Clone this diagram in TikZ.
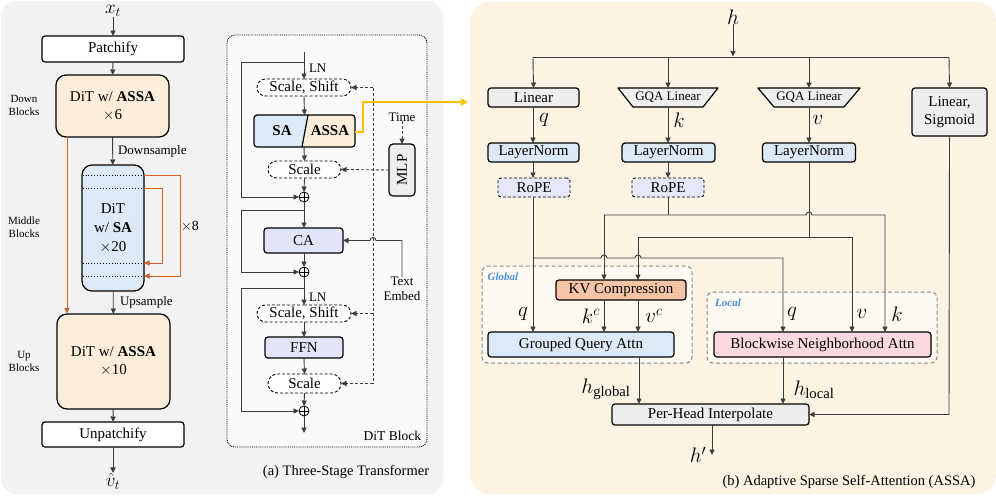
\RequirePackage{fix-cm}
\documentclass[tikz,border=0pt]{standalone}
\usepackage{fontspec}
\setmainfont{Liberation Serif}
\newfontfamily\tms{Liberation Serif}
\usetikzlibrary{arrows.meta,shapes.misc,calc}
\definecolor{pgray}{HTML}{F2F2F2}
\definecolor{pbeige}{HTML}{FDF3E2}
\definecolor{peach}{HTML}{FDEEDC}
\definecolor{lblue}{HTML}{DCE9F6}
\definecolor{lav}{HTML}{E2E5F8}
\definecolor{ropec}{HTML}{E6E8FA}
\definecolor{bgray}{HTML}{EEEEEE}
\definecolor{kvc}{HTML}{F5C4A6}
\definecolor{pinkc}{HTML}{FCD8E1}
\definecolor{orng}{HTML}{D2612A}
\definecolor{yel}{HTML}{FFC000}
\definecolor{glfill}{HTML}{FEF9F1}
\definecolor{glblue}{HTML}{4A90D9}
\definecolor{wire}{HTML}{3C3C3C}
\definecolor{dashg}{HTML}{8A8A8A}
\newcommand\myfs[2]{\tms\fontsize{#1}{#2}\selectfont}
\tikzset{
 every node/.style={inner sep=0pt, outer sep=0pt},
 box/.style={draw, line width=1.2pt, rounded corners=3pt, align=center, font=\myfs{15}{18}},
 bigbox/.style={box, rounded corners=10pt},
 ell/.style={rounded rectangle, draw, dash pattern=on 3pt off 2pt, line width=0.9pt, font=\myfs{15}{18}},
 lab/.style={font=\myfs{13}{15}, align=center},
 small/.style={font=\myfs{11}{13}, align=center},
 mlab/.style={font=\myfs{21}{23}},
 wireline/.style={line width=0.9pt, draw=wire},
 conn/.style={wireline, -{Triangle[length=5.5pt,width=5pt]}},
 dconn/.style={conn, dash pattern=on 3pt off 2pt},
 grp/.style={draw=dashg, dash pattern=on 4pt off 2.5pt, line width=1pt, fill=glfill, rounded corners=6pt},
 tag/.style={font=\myfs{11}{13}\bfseries\itshape, text=glblue},
}
\begin{document}
\begin{tikzpicture}[x=1pt,y=-1pt]
\useasboundingbox (0,0) rectangle (996,499);
% panels
\fill[pgray, rounded corners=16pt] (1,1) rectangle (443,494);
\fill[pbeige, rounded corners=20pt] (470,2) rectangle (996,494);

% ===== (a) left column =====
\node[font=\myfs{19}{21}] (xt) at (113,11) {$x_t$};
\node[box, fill=white, minimum width=142, minimum height=26] (patch) at (113,49) {Patchify};
\node[bigbox, fill=peach, minimum width=113, minimum height=62] (down) at (112.5,106) {DiT w/ \textbf{ASSA}\\$\times$6};
\node[bigbox, fill=lblue, minimum width=62, minimum height=126, font=\myfs{15}{19}] (mid) at (113,228) {DiT\\w/ \textbf{SA}\\$\times$20};
\node[bigbox, fill=peach, minimum width=113, minimum height=95] (up) at (113.5,361.5) {DiT w/ \textbf{ASSA}\\$\times$10};
\node[box, fill=white, minimum width=142, minimum height=25] (unpatch) at (113,434.5) {Unpatchify};
\node[font=\myfs{19}{21}] (vt) at (113,481) {$\hat{v}_t$};
\draw[conn] (xt) -- (patch);
\draw[conn] (patch) -- (down);
\draw[conn] (down) -- (mid);
\draw[conn] (mid) -- (up);
\draw[conn] (up) -- (unpatch);
\draw[conn] (unpatch) -- (vt);
\node[lab, anchor=west] (dsl) at (118,151) {Downsample};
\node[lab, anchor=west] (usl) at (120,302) {Upsample};
\foreach \yy in {175,188,263,276} \draw[dotted, line width=0.9pt] (82.6,\yy) -- (143.4,\yy);
\draw[orng, line width=1pt, -{Triangle[length=5.5pt,width=5pt]}] (144,175) -- (180,175) -- (180,276) -- (144,276);
\draw[orng, line width=1pt, -{Triangle[length=5.5pt,width=5pt]}] (144,188) -- (162,188) -- (162,263) -- (144,263);
\draw[orng, line width=1pt, -{Triangle[length=5.5pt,width=5pt]}] (67,137) -- (67,313.5);
\node[font=\myfs{14}{16}] (x8) at (190,226) {$\times$8};
\node[small] (dbl) at (24,105.5) {Down\\Blocks};
\node[small] (mbl) at (24,227.5) {Middle\\Blocks};
\node[small] (ubl) at (24,361) {Up\\Blocks};

% ===== DiT block =====
\draw[densely dotted, line width=0.9pt, fill=white!98!black, rounded corners=8pt] (227,35) rectangle (427,447);
\node[font=\myfs{13.5}{15}, anchor=east] (dbt) at (421,436) {DiT Block};
\node[font=\myfs{14.5}{16}] (capa) at (346,472) {(a) Three-Stage Transformer};

\node[ell, fill=white, minimum width=94, minimum height=17] (ss1) at (304,87.5) {Scale, Shift};
% SA / ASSA split box
\begin{scope}
\clip[rounded corners=3pt] (254,115) rectangle (355,147);
\fill[lblue] (254,115) -- (308,115) -- (302,147) -- (254,147) -- cycle;
\fill[peach] (308,115) -- (355,115) -- (355,147) -- (302,147) -- cycle;
\end{scope}
\node[draw, line width=1.2pt, rounded corners=3pt, minimum width=101, minimum height=32] (sa) at (304.5,131) {};
\draw[line width=1.2pt] (308,115) -- (302,147);
\node[font=\myfs{15}{18}\bfseries] (satext) at (282,131) {SA};
\node[font=\myfs{15}{18}\bfseries] (assatext) at (330,131) {ASSA};
\node[ell, fill=white, minimum width=73, minimum height=17] (sc1) at (304.5,169.5) {Scale};
\node[circle, draw, line width=0.8pt, minimum size=10, fill=white] (p1) at (304,197) {};
\node[box, fill=lav, minimum width=79, minimum height=25] (ca) at (303.5,240.5) {CA};
\node[circle, draw, line width=0.8pt, minimum size=10, fill=white] (p2) at (304,272) {};
\node[ell, fill=white, minimum width=94, minimum height=17] (ss2) at (304,313.5) {Scale, Shift};
\node[box, fill=lav, minimum width=78, minimum height=21] (ffn) at (304,347.5) {FFN};
\node[ell, fill=white, minimum width=73, minimum height=19] (sc2) at (304.5,383.5) {Scale};
\node[circle, draw, line width=0.8pt, minimum size=10, fill=white] (p3) at (304,411) {};
\foreach \p in {p1,p2,p3} \draw[line width=0.8pt] (\p.north) -- (\p.south) (\p.west) -- (\p.east);
\node[box, fill=bgray, minimum width=26, minimum height=52, rounded corners=4pt] (mlp) at (402,170) {};
\node[rotate=90, font=\myfs{15}{18}] (mlpt) at (402,170) {MLP};
\node[lab] (time) at (402,117) {Time};
\node[lab] (temb) at (402,289) {Text\\Embed};
\node[lab, anchor=west] (ln1) at (309,68) {LN};
\node[lab, anchor=west] (ln2) at (309,297) {LN};

\draw[conn] (304,52) -- (ss1.north);
\draw[conn] (304,62) -- (241,62) -- (241,197) -- (p1.west);
\draw[conn] (ss1.south) -- (sa.south |- sa.north);
\draw[conn] (304,147) -- (sc1.north);
\draw[conn] (sc1.south) -- (p1.north);
\draw[conn] (p1.south) -- (ca.north -| p1.south);
\draw[conn] (304,210) -- (241,210) -- (241,272) -- (p2.west);
\draw[conn] (ca.south -| p2.north) -- (p2.north);
\draw[conn] (p2.south) -- (ss2.north);
\draw[conn] (304,288) -- (241,288) -- (241,411) -- (p3.west);
\draw[conn] (ss2.south) -- (ffn.north);
\draw[conn] (ffn.south) -- (sc2.north);
\draw[conn] (sc2.south) -- (p3.north);
\coordinate (dout) at (304,433);
\draw[conn] (p3.south) -- (dout);
\draw[conn] (temb.north) -- (402,240.5) -- (376,240.5) arc[start angle=0,end angle=180,radius=3pt] -- (ca.east);
\draw[dconn] (time.south) -- (mlp.north);
\draw[dconn] (mlp.west) -- (sc1.east);
\draw[wireline, dash pattern=on 3pt off 2pt] (373,87.5) -- (373,383.5);
\draw[dconn] (373,87.5) -- (ss1.east);
\draw[dconn] (373,313.5) -- (ss2.east);
\draw[dconn] (373,383.5) -- (sc2.east);
\coordinate (yend) at (468,102);
\draw[yel, line width=1.8pt, -{Triangle[length=7pt,width=7pt]}] (355,132) -- (363,132) -- (363,102) -- (yend);

% ===== (b) ASSA =====
\draw[grp] (482,266) rectangle (692,363);
\draw[grp] (707,292) rectangle (937,363);
\node[tag] (gtag) at (503,277) {Global};
\node[tag] (ltag) at (728,303) {Local};

\node[font=\myfs{21}{23}] (h) at (733,17) {$h$};
\node[box, fill=bgray, minimum width=91, minimum height=19] (lin) at (533.5,97.5) {Linear};
\draw[line width=1.2pt, fill=bgray, line join=round] (618,88) -- (718,88) -- (703,107) -- (633,107) -- cycle;
\draw[line width=1.2pt, fill=bgray, line join=round] (758,88) -- (860,88) -- (844,107) -- (774,107) -- cycle;
\node[font=\myfs{13}{15}, minimum width=70, minimum height=19] (gqk) at (668,97.5) {GQA Linear};
\node[font=\myfs{13}{15}, minimum width=70, minimum height=19] (gqv) at (809,97.5) {GQA Linear};
\node[box, fill=bgray, minimum width=75, minimum height=48] (ls) at (949.5,112) {Linear,\\Sigmoid};
\node[box, fill=lblue, minimum width=91, minimum height=19] (lnq) at (533.5,152.5) {LayerNorm};
\node[box, fill=lblue, minimum width=93, minimum height=19] (lnk) at (668.5,152.5) {LayerNorm};
\node[box, fill=lblue, minimum width=93, minimum height=19] (lnv) at (809,152.5) {LayerNorm};
\node[box, fill=ropec, dash pattern=on 3pt off 2pt, line width=0.9pt, minimum width=72, minimum height=19] (rq) at (534,187.5) {RoPE};
\node[box, fill=ropec, dash pattern=on 3pt off 2pt, line width=0.9pt, minimum width=72, minimum height=19] (rk) at (668,187.5) {RoPE};
\node[box, fill=kvc, minimum width=130, minimum height=20] (kv) at (621,290) {KV Compression};
\node[box, fill=lblue, minimum width=186, minimum height=25] (gqa) at (581,344.5) {Grouped Query Attn};
\node[box, fill=pinkc, minimum width=217, minimum height=25] (bna) at (822.5,344.5) {Blockwise Neighborhood Attn};
\node[box, fill=bgray, minimum width=197, minimum height=21] (per) at (710.5,414.5) {Per-Head Interpolate};

\node[mlab] (lq) at (544,120) {$q$};
\node[mlab] (lk) at (679,120) {$k$};
\node[mlab] (lv) at (818,120) {$v$};
\node[mlab] (gq) at (523,314) {$q$};
\node[mlab] (gkc) at (591,316) {$k^c$};
\node[mlab] (gvc) at (654,316) {$v^c$};
\node[mlab] (lq2) at (792,314) {$q$};
\node[mlab] (lv2) at (862,314) {$v$};
\node[mlab] (lk2) at (897,314) {$k$};
\node[mlab] (hg) at (606,389) {$h_{\mathrm{global}}$};
\node[mlab] (hl) at (814,390) {$h_{\mathrm{local}}$};
\node[mlab] (hp) at (698,455) {$h'$};
\node[font=\myfs{14.5}{16}] (capb) at (849,482) {(b) Adaptive Sparse Self-Attention (ASSA)};

% wiring
\draw[conn] (h.south) -- (733,56.5);
\draw[wireline] (533,57) -- (949,57);
\draw[conn] (533,57) -- (lin.north);
\draw[conn] (668,57) -- (gqk.north);
\draw[conn] (809,57) -- (gqv.north);
\draw[conn] (949,57) -- (ls.north);
\draw[conn] (533,107) -- (lnq.north -| 533,0);
\draw[conn] (gqk.south) -- (lnk.north -| gqk.south);
\draw[conn] (gqv.south) -- (lnv.north);
\draw[conn] (533,162) -- (533,178);
\draw[conn] (668,162) -- (rk.north);
\draw[conn] (533,197) -- (533,332);
\draw[conn] (533,258) -- (601,258) arc[start angle=180,end angle=0,radius=3pt] -- (635,258) arc[start angle=180,end angle=0,radius=3pt] -- (783,258) -- (783,332);
\draw[wireline] (rk.south) -- (668,215);
\draw[conn] (604,215) -- (806,215) arc[start angle=180,end angle=0,radius=3pt] -- (885,215) -- (885,332);
\draw[conn] (604,215) -- (604,280);
\draw[wireline] (lnv.south) -- (809,237);
\draw[conn] (638,237) -- (852,237) -- (852,332);
\draw[conn] (638,237) -- (638,280);
\draw[conn] (604,300) -- (604,332);
\draw[conn] (638,300) -- (638,332);
\draw[conn] (639,357) -- (639,404);
\draw[conn] (783,357) -- (783,404);
\draw[conn] (ls.south) -- (949,414.5) -- (per.east);
\coordinate (hout) at (712,455);
\draw[conn] (712,425) -- (hout);
\end{tikzpicture}
\end{document}
